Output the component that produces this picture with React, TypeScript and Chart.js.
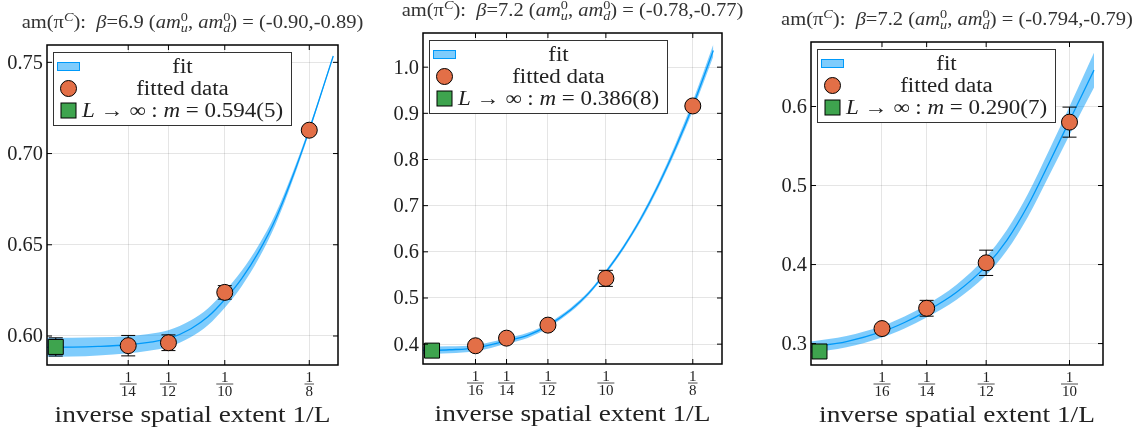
import React, { useEffect, useRef } from "react";
import { Chart, registerables } from "chart.js";

Chart.register(...registerables);

// ---------------- data ----------------
// panel 1 : beta = 6.9
const p1_L = [14, 12, 10, 8];
const p1_mass = [0.5947, 0.5963, 0.6239, 0.7128];
const p1_err = [0.0056, 0.0043, 0.0037, 0.002];
const p1_infX = 0.05;
const p1_infMass = 0.594;
const p1_infErr = 0.005;
const p1_fitX = [0.0474, 0.055, 0.0625, 0.0714, 0.0775, 0.0833, 0.09, 0.095, 0.1, 0.105, 0.11, 0.115, 0.12, 0.125, 0.1321];
const p1_fitMid = [0.5938, 0.5939, 0.5943, 0.5952, 0.5965, 0.5985, 0.604, 0.6105, 0.62, 0.6315, 0.646, 0.664, 0.687, 0.713, 0.7535];
const p1_fitLo = [0.5886, 0.5887, 0.5893, 0.5905, 0.5919, 0.5939, 0.5994, 0.6059, 0.6155, 0.6273, 0.6423, 0.661, 0.6848, 0.7116, 0.7529];
const p1_fitHi = [0.599, 0.5991, 0.5993, 0.5999, 0.6011, 0.6031, 0.6086, 0.6151, 0.6245, 0.6357, 0.6497, 0.667, 0.6892, 0.7144, 0.7541];
const p1_yTicks = [0.6, 0.65, 0.7, 0.75];

// panel 2 : beta = 7.2, (-0.78,-0.77)
const p2_L = [16, 14, 12, 10, 8];
const p2_mass = [0.3965, 0.413, 0.4412, 0.5425, 0.916];
const p2_err = [0.004, 0.004, 0.004, 0.0174, 0.006];
const p2_infX = 0.05;
const p2_infMass = 0.386;
const p2_infErr = 0.008;
const p2_fitX = [0.0474, 0.055, 0.0625, 0.0714, 0.0775, 0.0833, 0.09, 0.095, 0.1, 0.105, 0.11, 0.115, 0.12, 0.125, 0.1309];
const p2_fitMid = [0.3863, 0.3879, 0.3915, 0.407, 0.419, 0.44, 0.475, 0.51, 0.556, 0.609, 0.671, 0.743, 0.825, 0.916, 1.036];
const p2_fitLo = [0.3783, 0.3804, 0.3847, 0.401, 0.4135, 0.435, 0.4705, 0.506, 0.552, 0.6045, 0.6655, 0.7362, 0.8165, 0.9055, 1.023];
const p2_fitHi = [0.3943, 0.3954, 0.3983, 0.413, 0.4245, 0.445, 0.4795, 0.514, 0.56, 0.6135, 0.6765, 0.7498, 0.8335, 0.9265, 1.049];
const p2_yTicks = [0.4, 0.5, 0.6, 0.7, 0.8, 0.9, 1.0];

// panel 3 : beta = 7.2, (-0.794,-0.79)
const p3_L = [16, 14, 12, 10];
const p3_mass = [0.319, 0.3447, 0.4022, 0.5802];
const p3_err = [0.004, 0.01, 0.016, 0.019];
const p3_infX = 0.05;
const p3_infMass = 0.29;
const p3_infErr = 0.007;
const p3_fitX = [0.0483, 0.0554, 0.0625, 0.067, 0.0714, 0.0774, 0.0833, 0.0875, 0.0917, 0.0958, 0.1, 0.1049];
const p3_fitMid = [0.2955, 0.3025, 0.315, 0.3267, 0.341, 0.365, 0.398, 0.431, 0.475, 0.527, 0.582, 0.646];
const p3_fitLo = [0.2885, 0.2955, 0.3078, 0.3192, 0.333, 0.3555, 0.3865, 0.418, 0.4605, 0.511, 0.564, 0.624];
const p3_fitHi = [0.3025, 0.3095, 0.3222, 0.3342, 0.349, 0.3745, 0.4095, 0.444, 0.4895, 0.543, 0.6, 0.668];
const p3_yTicks = [0.3, 0.4, 0.5, 0.6];

// ---------------- styling ----------------
const FONT = '"Liberation Serif", "DejaVu Serif", serif';
const BLUE = "#009AFA";
const BAND = "rgba(0,154,250,0.5)";
const ORANGE = "#E36F47";
const GREEN = "#3EA44E";
const GRID = "rgba(0,0,0,0.1)";
const TEXT = "#222";
const H = 434;

interface Panel {
  left: number;
  width: number;
  area: { l: number; t: number; r: number; b: number };
  xRange: [number, number];
  yRange: [number, number];
  yTicks: number[];
  yDec: number;
  L: number[];
  mass: number[];
  err: number[];
  infX: number;
  infMass: number;
  infErr: number;
  fitX: number[];
  fitMid: number[];
  fitLo: number[];
  fitHi: number[];
  beta: string;
  bare: string;
  mInf: string;
}

const panels: Panel[] = [
  {
    left: 0, width: 375,
    area: { l: 47, t: 45, r: 338, b: 365 },
    xRange: [0.0474, 0.1335], yRange: [0.5841, 0.7595],
    yTicks: p1_yTicks, yDec: 2,
    L: p1_L, mass: p1_mass, err: p1_err,
    infX: p1_infX, infMass: p1_infMass, infErr: p1_infErr,
    fitX: p1_fitX, fitMid: p1_fitMid, fitLo: p1_fitLo, fitHi: p1_fitHi,
    beta: "6.9", bare: "(-0.90,-0.89)", mInf: "0.594(5)",
  },
  {
    left: 375, width: 385,
    area: { l: 423, t: 33, r: 722, b: 364 },
    xRange: [0.0474, 0.1334], yRange: [0.357, 1.074],
    yTicks: p2_yTicks, yDec: 1,
    L: p2_L, mass: p2_mass, err: p2_err,
    infX: p2_infX, infMass: p2_infMass, infErr: p2_infErr,
    fitX: p2_fitX, fitMid: p2_fitMid, fitLo: p2_fitLo, fitHi: p2_fitHi,
    beta: "7.2", bare: "(-0.78,-0.77)", mInf: "0.386(8)",
  },
  {
    left: 760, width: 383,
    area: { l: 811, t: 42, r: 1103, b: 365 },
    xRange: [0.0483, 0.1067], yRange: [0.2729, 0.6816],
    yTicks: p3_yTicks, yDec: 1,
    L: p3_L, mass: p3_mass, err: p3_err,
    infX: p3_infX, infMass: p3_infMass, infErr: p3_infErr,
    fitX: p3_fitX, fitMid: p3_fitMid, fitLo: p3_fitLo, fitHi: p3_fitHi,
    beta: "7.2", bare: "(-0.794,-0.79)", mInf: "0.290(7)",
  },
];

// ---------------- rich text helper ----------------
type Run = { t: string; s: number; it?: boolean; dy?: number; stack?: boolean };

function fontOf(r: Run) {
  return `${r.it ? "italic " : ""}${r.s}px ${FONT}`;
}

// draws a sequence of text runs; k = horizontal stretch of the glyphs
function drawRuns(
  ctx: CanvasRenderingContext2D,
  runs: Run[],
  x: number,
  y: number,
  align: "left" | "center" | "right",
  k = 1
) {
  const widths = runs.map((r) => {
    ctx.font = fontOf(r);
    return ctx.measureText(r.t).width * k;
  });
  const pos: number[] = [];
  let cx = 0;
  let pending = 0;
  runs.forEach((r, i) => {
    pos.push(cx);
    if (r.stack) pending = widths[i];
    else {
      cx += Math.max(widths[i], pending);
      pending = 0;
    }
  });
  const x0 = align === "center" ? x - cx / 2 : align === "right" ? x - cx : x;
  ctx.textAlign = "left";
  ctx.textBaseline = "alphabetic";
  runs.forEach((r, i) => {
    ctx.save();
    ctx.font = fontOf(r);
    ctx.translate(x0 + pos[i], y + (r.dy || 0));
    ctx.scale(k, 1);
    ctx.fillText(r.t, 0, 0);
    ctx.restore();
  });
}

function makePlugin(p: Panel) {
  return {
    id: "custom",
    beforeDatasetDraw(chart: any, args: any) {
      const ds = chart.data.datasets[args.index];
      if (ds.label !== "data" && ds.label !== "inf") return;
      const ctx: CanvasRenderingContext2D = chart.ctx;
      const xs = chart.scales.x;
      const ys = chart.scales.y;
      const pts =
        ds.label === "data"
          ? p.L.map((L, i) => ({ x: 1 / L, y: p.mass[i], e: p.err[i] }))
          : [{ x: p.infX, y: p.infMass, e: p.infErr }];
      ctx.save();
      ctx.strokeStyle = "#000";
      ctx.lineWidth = 1;
      for (const q of pts) {
        const px = xs.getPixelForValue(q.x);
        const y1 = ys.getPixelForValue(q.y + q.e);
        const y2 = ys.getPixelForValue(q.y - q.e);
        ctx.beginPath();
        ctx.moveTo(px, y1);
        ctx.lineTo(px, y2);
        ctx.moveTo(px - 7, y1);
        ctx.lineTo(px + 7, y1);
        ctx.moveTo(px - 7, y2);
        ctx.lineTo(px + 7, y2);
        ctx.stroke();
      }
      ctx.restore();
    },
    afterDraw(chart: any) {
      const ctx: CanvasRenderingContext2D = chart.ctx;
      const a = chart.chartArea;
      const xs = chart.scales.x;
      const ys = chart.scales.y;
      ctx.save();
      // frame
      ctx.strokeStyle = "#000";
      ctx.lineWidth = 1.5;
      ctx.strokeRect(a.left, a.top, a.right - a.left, a.bottom - a.top);
      // inward ticks on all sides
      ctx.lineWidth = 1;
      ctx.beginPath();
      for (const L of p.L) {
        const px = xs.getPixelForValue(1 / L);
        ctx.moveTo(px, a.bottom);
        ctx.lineTo(px, a.bottom - 5);
        ctx.moveTo(px, a.top);
        ctx.lineTo(px, a.top + 5);
      }
      for (const v of p.yTicks) {
        const py = ys.getPixelForValue(v);
        ctx.moveTo(a.left, py);
        ctx.lineTo(a.left + 5, py);
        ctx.moveTo(a.right, py);
        ctx.lineTo(a.right - 5, py);
      }
      ctx.stroke();

      // y tick labels
      ctx.fillStyle = TEXT;
      for (const v of p.yTicks) {
        const py = ys.getPixelForValue(v);
        drawRuns(ctx, [{ t: v.toFixed(p.yDec), s: 20 }], a.left - 4, py + 6.5, "right", 1.02);
      }

      // fraction tick labels
      ctx.fillStyle = TEXT;
      ctx.font = `15px ${FONT}`;
      ctx.textAlign = "center";
      ctx.textBaseline = "alphabetic";
      for (const L of p.L) {
        const px = xs.getPixelForValue(1 / L);
        const den = String(L);
        ctx.font = `15px ${FONT}`;
        ctx.textAlign = "center";
        ctx.textBaseline = "alphabetic";
        ctx.fillText("1", px, a.bottom + 16.5);
        ctx.fillText(den, px, a.bottom + 30.5);
        const w = Math.max(ctx.measureText("1").width, ctx.measureText(den).width) + 2;
        ctx.beginPath();
        ctx.strokeStyle = TEXT;
        ctx.lineWidth = 0.8;
        ctx.moveTo(px - w / 2, a.bottom + 19);
        ctx.lineTo(px + w / 2, a.bottom + 19);
        ctx.stroke();
      }

      const cx = (a.left + a.right) / 2;
      // x axis title
      ctx.fillStyle = TEXT;
      drawRuns(ctx, [{ t: "inverse spatial extent 1/L", s: 23 }], cx, a.bottom + 57, "center", 1.19);

      // plot title
      ctx.fillStyle = "#333";
      const S = 18;
      const s = 12.5;
      drawRuns(
        ctx,
        [
          { t: "am(π", s: S },
          { t: "C", s, it: true, dy: -7 },
          { t: "):  ", s: S },
          { t: "β", s: S, it: true },
          { t: "=" + p.beta + " (", s: S },
          { t: "am", s: S, it: true },
          { t: "0", s, dy: -7, stack: true },
          { t: "u", s, it: true, dy: 4 },
          { t: ", ", s: S },
          { t: "am", s: S, it: true },
          { t: "0", s, dy: -7, stack: true },
          { t: "d", s, it: true, dy: 4 },
          { t: ") = " + p.bare, s: S },
        ],
        cx,
        a.top - 17,
        "center",
        1.14
      );

      // legend
      const lx = Math.round(a.left + 6) + 0.5;
      const ly = Math.round(a.top + 7) + 0.5;
      const lw = 238;
      const lh = 73;
      ctx.fillStyle = "#fff";
      ctx.fillRect(lx, ly, lw, lh);
      ctx.strokeStyle = "#333";
      ctx.lineWidth = 1;
      ctx.strokeRect(lx, ly, lw, lh);
      const rows = [ly + 14, ly + 36, ly + 58];
      const tx = lx + 129;
      // fit patch
      ctx.fillStyle = BAND;
      ctx.fillRect(lx + 4, rows[0] - 4, 22, 8);
      ctx.strokeStyle = BLUE;
      ctx.strokeRect(lx + 4, rows[0] - 4, 22, 8);
      // circle
      ctx.beginPath();
      ctx.arc(lx + 15, rows[1], 8, 0, Math.PI * 2);
      ctx.fillStyle = ORANGE;
      ctx.fill();
      ctx.strokeStyle = "#000";
      ctx.stroke();
      // square
      ctx.fillStyle = GREEN;
      ctx.fillRect(lx + 7.5, rows[2] - 7.5, 15, 15);
      ctx.strokeStyle = "#000";
      ctx.strokeRect(lx + 7.5, rows[2] - 7.5, 15, 15);
      ctx.fillStyle = TEXT;
      const LK = 1.15;
      drawRuns(ctx, [{ t: "fit", s: 20 }], tx, rows[0] + 6.5, "center", LK);
      drawRuns(ctx, [{ t: "fitted data", s: 20 }], tx, rows[1] + 6.5, "center", LK);
      drawRuns(
        ctx,
        [
          { t: "L", s: 20, it: true },
          { t: " → ∞ : ", s: 20 },
          { t: "m", s: 20, it: true },
          { t: " = " + p.mInf, s: 20 },
        ],
        tx,
        rows[2] + 6.5,
        "center",
        LK
      );
      ctx.restore();
    },
  };
}

function buildConfig(p: Panel): any {
  const xy = (xs: number[], ys: number[]) => xs.map((x, i) => ({ x, y: ys[i] }));
  return {
    type: "line",
    data: {
      datasets: [
        {
          label: "data",
          data: p.L.map((L, i) => ({ x: 1 / L, y: p.mass[i] })),
          showLine: false,
          pointRadius: 8,
          pointBackgroundColor: ORANGE,
          pointBorderColor: "#000",
          pointBorderWidth: 1,
          order: 0,
        },
        {
          label: "inf",
          data: [{ x: p.infX, y: p.infMass }],
          showLine: false,
          pointStyle: "rect",
          pointRadius: 10.6,
          pointBackgroundColor: GREEN,
          pointBorderColor: "#000",
          pointBorderWidth: 1,
          order: 1,
        },
        {
          label: "fit",
          data: xy(p.fitX, p.fitMid),
          borderColor: BLUE,
          borderWidth: 1.3,
          pointRadius: 0,
          cubicInterpolationMode: "monotone",
          fill: false,
          order: 2,
        },
        {
          label: "hi",
          data: xy(p.fitX, p.fitHi),
          borderColor: "rgba(0,0,0,0)",
          borderWidth: 1,
          backgroundColor: BAND,
          pointRadius: 0,
          cubicInterpolationMode: "monotone",
          fill: "+1",
          order: 3,
        },
        {
          label: "lo",
          data: xy(p.fitX, p.fitLo),
          borderColor: "rgba(0,0,0,0)",
          borderWidth: 1,
          pointRadius: 0,
          cubicInterpolationMode: "monotone",
          fill: false,
          order: 4,
        },
      ],
    },
    options: {
      responsive: false,
      maintainAspectRatio: false,
      devicePixelRatio: 1,
      animation: false,
      events: [],
      layout: {
        padding: {
          left: p.area.l - p.left,
          top: p.area.t,
          right: p.left + p.width - p.area.r,
          bottom: H - p.area.b,
        },
      },
      plugins: { legend: { display: false }, tooltip: { enabled: false }, title: { display: false } },
      scales: {
        x: {
          type: "linear",
          min: p.xRange[0],
          max: p.xRange[1],
          afterBuildTicks: (s: any) => {
            s.ticks = p.L.map((L) => ({ value: 1 / L }));
          },
          afterFit: (s: any) => {
            s.height = 0;
            s.paddingLeft = 0;
            s.paddingRight = 0;
            s.paddingTop = 0;
            s.paddingBottom = 0;
          },
          grid: { color: GRID, lineWidth: 1, drawTicks: false },
          border: { display: false },
          ticks: { display: false },
        },
        y: {
          type: "linear",
          min: p.yRange[0],
          max: p.yRange[1],
          afterBuildTicks: (s: any) => {
            s.ticks = p.yTicks.map((v) => ({ value: v }));
          },
          afterFit: (s: any) => {
            s.width = 0;
            s.paddingLeft = 0;
            s.paddingRight = 0;
            s.paddingTop = 0;
            s.paddingBottom = 0;
          },
          grid: { color: GRID, lineWidth: 1, drawTicks: false },
          border: { display: false },
          ticks: { display: false },
        },
      },
    },
    plugins: [makePlugin(p)],
  };
}

function PanelChart({ p }: { p: Panel }) {
  const ref = useRef<HTMLCanvasElement>(null);
  useEffect(() => {
    if (!ref.current) return;
    const chart = new Chart(ref.current, buildConfig(p));
    return () => chart.destroy();
  }, [p]);
  return (
    <canvas
      ref={ref}
      width={p.width}
      height={H}
      style={{ position: "absolute", left: p.left, top: 0, width: p.width, height: H }}
    />
  );
}

export default function App() {
  return (
    <div
      style={{
        position: "absolute",
        left: 0,
        top: 0,
        width: 1143,
        height: H,
        background: "#fff",
        overflow: "hidden",
      }}
    >
      {panels.map((p, i) => (
        <PanelChart key={i} p={p} />
      ))}
    </div>
  );
}
